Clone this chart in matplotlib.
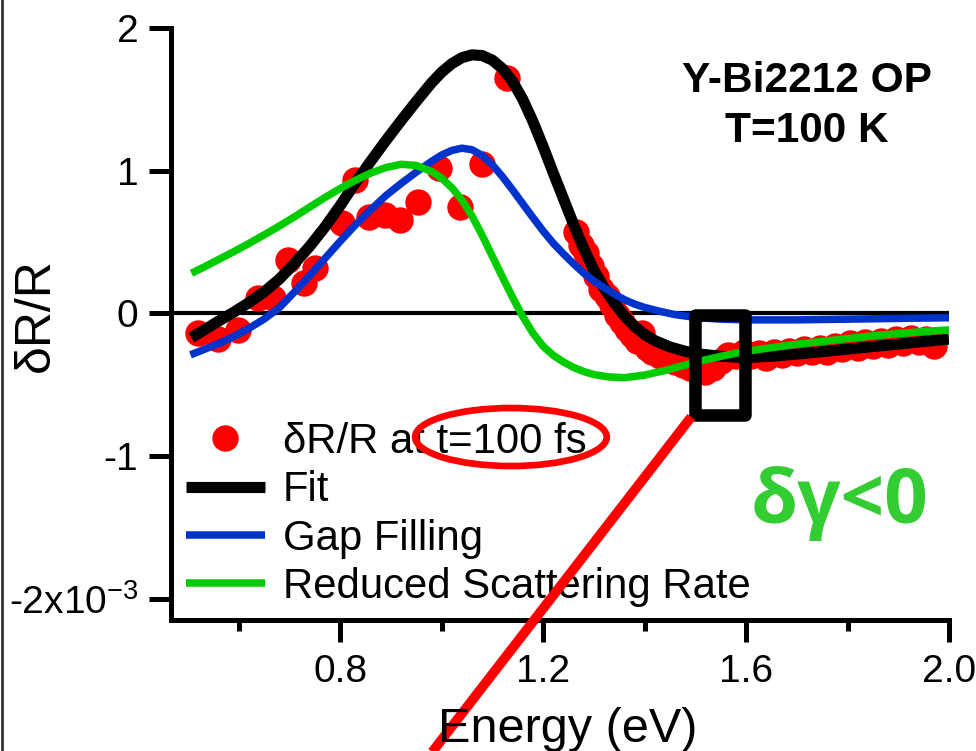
import matplotlib
matplotlib.use("Agg")
import matplotlib.pyplot as plt
from matplotlib.patches import Ellipse, Rectangle
from matplotlib.lines import Line2D
from matplotlib.ticker import FixedLocator, FixedFormatter

plt.rcParams["font.family"] = ["Liberation Sans", "DejaVu Sans"]
plt.rcParams["mathtext.fontset"] = "custom"
plt.rcParams["mathtext.rm"] = "Liberation Sans"
plt.rcParams["axes.unicode_minus"] = False

# --- measured dR/R at t = 100 fs (units of 1e-3) ---
data_e = [0.520, 0.560, 0.599, 0.639, 0.668, 0.698, 0.728, 0.751, 0.803, 0.830,
          0.856, 0.889, 0.918, 0.954, 0.994, 1.037, 1.079, 1.129,
          1.265, 1.275, 1.285, 1.295, 1.305, 1.315, 1.325, 1.335, 1.345, 1.355,
          1.365, 1.375, 1.385, 1.395, 1.405, 1.415, 1.430, 1.445, 1.460, 1.475,
          1.490, 1.505, 1.520, 1.535, 1.550, 1.565, 1.580, 1.595, 1.610, 1.625,
          1.640, 1.655, 1.670, 1.685, 1.700, 1.715, 1.730, 1.745, 1.760, 1.775,
          1.790, 1.805, 1.820, 1.835, 1.850, 1.865, 1.880, 1.895, 1.910, 1.925,
          1.940, 1.955, 1.970]
data_r = [-0.14, -0.18, -0.115, 0.107, 0.107, 0.375, 0.21, 0.317, 0.632, 0.936,
          0.678, 0.69, 0.655, 0.783, 1.017, 0.748, 1.05, 1.648,
          0.57, 0.48, 0.42, 0.33, 0.26, 0.17, 0.12, 0.06, -0.01, -0.06,
          -0.11, -0.15, -0.19, -0.14, -0.24, -0.27, -0.30, -0.32, -0.34, -0.36,
          -0.38, -0.40, -0.41, -0.38, -0.33, -0.29, -0.30, -0.27, -0.30, -0.28,
          -0.31, -0.27, -0.29, -0.26, -0.28, -0.25, -0.27, -0.24, -0.27, -0.23,
          -0.25, -0.21, -0.24, -0.20, -0.23, -0.19, -0.22, -0.18, -0.21, -0.17,
          -0.20, -0.18, -0.23]

# --- total fit ---
fit_e = [0.507, 0.53, 0.56, 0.59, 0.62, 0.65, 0.68, 0.71, 0.74, 0.77, 0.80, 0.83,
         0.86, 0.89, 0.92, 0.95, 0.98, 1.00, 1.02, 1.04, 1.06, 1.08, 1.10, 1.12,
         1.14, 1.16, 1.18, 1.20, 1.22, 1.24, 1.26, 1.28, 1.30, 1.32, 1.34, 1.36,
         1.38, 1.40, 1.42, 1.45, 1.48, 1.51, 1.55, 1.60, 1.65, 1.70, 1.75, 1.80,
         1.85, 1.90, 1.95, 2.00]
fit_r = [-0.170, -0.12, -0.055, 0.008, 0.075, 0.15, 0.24, 0.35, 0.47, 0.605, 0.755, 0.915,
         1.065, 1.21, 1.35, 1.485, 1.615, 1.69, 1.75, 1.792, 1.812, 1.807, 1.775, 1.715,
         1.625, 1.50, 1.345, 1.17, 0.985, 0.805, 0.625, 0.455, 0.305, 0.18, 0.075, -0.015,
         -0.09, -0.147, -0.19, -0.235, -0.265, -0.285, -0.30, -0.31, -0.30, -0.285, -0.268, -0.25,
         -0.232, -0.215, -0.197, -0.18]

# --- gap filling component ---
gap_e = [0.505, 0.53, 0.56, 0.59, 0.62, 0.65, 0.68, 0.71, 0.74, 0.77, 0.80, 0.83,
         0.86, 0.89, 0.92, 0.95, 0.98, 1.00, 1.02, 1.04, 1.06, 1.08, 1.10, 1.12,
         1.14, 1.16, 1.18, 1.20, 1.22, 1.24, 1.26, 1.28, 1.30, 1.32, 1.34, 1.36,
         1.38, 1.40, 1.43, 1.46, 1.50, 1.55, 1.60, 1.70, 1.80, 1.90, 2.00]
gap_r = [-0.29, -0.255, -0.212, -0.162, -0.105, -0.04, 0.04, 0.15, 0.265, 0.385, 0.505, 0.62,
         0.725, 0.825, 0.91, 0.99, 1.065, 1.11, 1.142, 1.158, 1.147, 1.107, 1.042, 0.958,
         0.865, 0.768, 0.672, 0.578, 0.492, 0.418, 0.348, 0.283, 0.227, 0.18, 0.137, 0.097,
         0.066, 0.042, 0.015, -0.008, -0.028, -0.04, -0.045, -0.045, -0.04, -0.035, -0.03]

# --- reduced scattering rate component ---
scat_e = [0.507, 0.53, 0.56, 0.59, 0.62, 0.65, 0.68, 0.71, 0.74, 0.77, 0.80, 0.83,
          0.86, 0.89, 0.92, 0.95, 0.98, 1.00, 1.02, 1.04, 1.06, 1.08, 1.10, 1.12,
          1.14, 1.16, 1.18, 1.20, 1.22, 1.24, 1.26, 1.28, 1.30, 1.33, 1.36, 1.40,
          1.44, 1.48, 1.52, 1.56, 1.60, 1.65, 1.70, 1.75, 1.80, 1.85, 1.90, 1.95, 2.00]
scat_r = [0.282, 0.322, 0.377, 0.432, 0.49, 0.55, 0.612, 0.677, 0.745, 0.812, 0.875, 0.933,
          0.983, 1.022, 1.045, 1.037, 0.995, 0.948, 0.882, 0.795, 0.682, 0.547, 0.40, 0.255,
          0.112, -0.022, -0.138, -0.23, -0.293, -0.34, -0.378, -0.407, -0.428, -0.445, -0.45, -0.432,
          -0.40, -0.362, -0.325, -0.293, -0.265, -0.24, -0.216, -0.196, -0.176, -0.157, -0.141, -0.127, -0.115]

x_major = [0.8, 1.2, 1.6, 2.0]
x_major_labels = ["0.8", "1.2", "1.6", "2.0"]
x_minor = [0.6, 1.0, 1.4, 1.8]
y_major = [2, 1, 0, -1, -2]
y_major_labels = ["2", "1", "0", "-1", r"-2x10$^{\mathregular{-3}}$"]

RED = "#ff0000"
BLUE = "#0033cc"
GREEN = "#00cc00"

W, H = 976, 751
fig = plt.figure(figsize=(W / 100, H / 100), dpi=100)
ax = fig.add_axes([171 / W, 1 - 620 / H, (949 - 171) / W, (620 - 28) / H])
ax.set_xlim(0.4667, 2.0)
ax.set_ylim(-2.148, 2.0)

for side in ("top", "right"):
    ax.spines[side].set_visible(False)
for side in ("left", "bottom"):
    ax.spines[side].set_linewidth(3.6)
    ax.spines[side].set_capstyle("projecting")

ax.xaxis.set_major_locator(FixedLocator(x_major))
ax.xaxis.set_major_formatter(FixedFormatter(x_major_labels))
ax.xaxis.set_minor_locator(FixedLocator(x_minor))
ax.yaxis.set_major_locator(FixedLocator(y_major))
ax.yaxis.set_major_formatter(FixedFormatter(y_major_labels))
ax.tick_params(axis="both", which="major", direction="out", length=15.5, width=3.6,
               labelsize=28, color="black")
ax.tick_params(axis="x", which="major", pad=9)
ax.tick_params(axis="y", which="major", pad=8)
ax.tick_params(axis="x", which="minor", direction="out", length=8, width=3.6)

ax.axhline(0, color="black", lw=3, zorder=1)

pts, = ax.plot(data_e, data_r, "o", color=RED, ms=19, mew=0, zorder=2,
               label="δR/R at t=100 fs")
fitl, = ax.plot(fit_e, fit_r, color="black", lw=8, zorder=3,
                solid_joinstyle="round", solid_capstyle="butt", label="Fit")
gapl, = ax.plot(gap_e, gap_r, color=BLUE, lw=5.4, zorder=4,
                solid_joinstyle="round", solid_capstyle="butt", label="Gap Filling")
scl, = ax.plot(scat_e, scat_r, color=GREEN, lw=5.4, zorder=5,
               solid_joinstyle="round", solid_capstyle="butt", label="Reduced Scattering Rate")

leg = ax.legend(handles=[pts, fitl, gapl, scl], loc="upper left",
                bbox_to_anchor=(186 / W, 1 - 422 / H), bbox_transform=fig.transFigure,
                frameon=False, fontsize=30.2, handlelength=1.88, handletextpad=0.43,
                labelspacing=0.2, borderpad=0, borderaxespad=0, numpoints=1)
leg.set_zorder(6)

# highlight of the spectral window and the delay
ax.add_patch(Rectangle((1.500, -0.715), 0.098, 0.701, fill=False, ec="black", lw=9,
                       joinstyle="round", zorder=9))
ax.plot([1.492, 0.932], [-0.725, -3.3], color=RED, lw=7, clip_on=False,
        solid_capstyle="butt", zorder=10)
ax.add_patch(Ellipse((1.1367, -0.866), 0.3777, 0.4065, fill=False, ec=RED, lw=4.8,
                     zorder=10, clip_on=False))

fig.text(807 / W, 1 - 91.7 / H, "Y-Bi2212 OP", ha="center", va="baseline",
         fontsize=30.5, fontweight="bold")
fig.text(807 / W, 1 - 141.7 / H, "T=100 K", ha="center", va="baseline",
         fontsize=30.5, fontweight="bold")
fig.text(840 / W, 1 - 523 / H, "δγ<0", ha="center", va="baseline", fontsize=55,
         fontweight="bold", color="#33cc33", family=["Open Sans", "DejaVu Sans"])

fig.text(36 / W, 1 - 315 / H, "δR/R", rotation=90, ha="center", va="center", fontsize=36)
fig.text(568 / W, 1 - 742 / H, "Energy (eV)", ha="center", va="baseline", fontsize=35)

fig.add_artist(Line2D([1.5 / W, 1.5 / W], [0, 1], color="#333333", lw=2))

fig.savefig("out.png", dpi=100)
